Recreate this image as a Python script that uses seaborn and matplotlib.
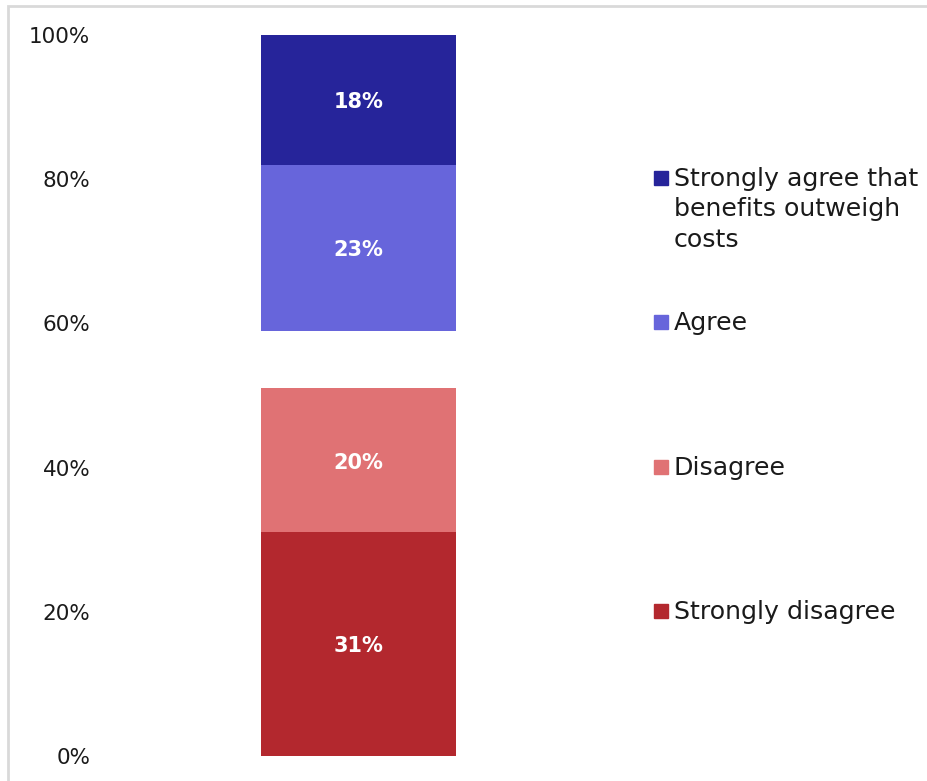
import matplotlib
matplotlib.use("Agg")
import matplotlib.pyplot as plt
from matplotlib.patches import Rectangle
import seaborn as sns
import pandas as pd

# Survey responses, stacked from the bottom up (percent of respondents)
responses = ["Strongly disagree", "Disagree", "Neither", "Agree",
             "Strongly agree that\nbenefits outweigh\ncosts"]
shares = [31, 20, 8, 23, 18]
colors = ["#B3282E", "#E07274", "none", "#6765DB", "#26249A"]
shown = [True, True, False, True, True]
yticks = [0, 20, 40, 60, 80, 100]
ytick_labels = ["0%", "20%", "40%", "60%", "80%", "100%"]

sns.set_theme(style="white")
plt.rcParams["font.family"] = ["DejaVu Sans"]

W, H = 928, 781
fig = plt.figure(figsize=(W / 100, H / 100), dpi=100)
ax = fig.add_axes([100 / W, 1 - 756 / H, 517 / W, (756 - 35) / H])

bottoms = pd.Series(shares).cumsum().shift(fill_value=0).tolist()
for name, val, bot, col, vis in zip(responses, shares, bottoms, colors, shown):
    if not vis:
        continue
    df = pd.DataFrame({"group": [""], "share": [val]})
    sns.barplot(data=df, x="group", y="share", bottom=bot, color=col,
                saturation=1, width=0.377, ax=ax, linewidth=0)
    ax.text(0, bot + val / 2 - 0.3, f"{val}%", ha="center", va="center",
            color="white", fontsize=15, fontweight="bold")

ax.set_xlim(-0.5, 0.5)
ax.set_ylim(0, 100)
ax.set_yticks(yticks)
ax.set_yticklabels(ytick_labels, fontsize=15.5, color="#1a1a1a")
ax.tick_params(axis="y", length=0, pad=7)
ax.set_xticks([])
ax.set_xlabel("")
ax.set_ylabel("")
for s in ax.spines.values():
    s.set_visible(False)

# Legend entries, top to bottom, lined up with the gridline levels
legend_items = [(responses[4], colors[4], 80), (responses[3], colors[3], 60),
                (responses[1], colors[1], 40), (responses[0], colors[0], 20)]
for label, col, level in legend_items:
    y_px = 756 - level * 7.21
    fy = 1 - (y_px - 1) / H
    fig.patches.append(Rectangle((654 / W, fy - 7 / H), 14 / W, 14 / H,
                                 transform=fig.transFigure, color=col))
    fig.text(674 / W, fy + 11 / H, label, ha="left", va="top",
             fontsize=18.2, color="#1a1a1a", linespacing=1.33)

# Light frame around the chart area
fig.patches.append(Rectangle((7.5 / W, -0.1), 1.2, 1 - 5.5 / H + 0.1,
                             transform=fig.transFigure, fill=False,
                             edgecolor="#D9D9D9", linewidth=2))

fig.savefig("out.png", dpi=100)
